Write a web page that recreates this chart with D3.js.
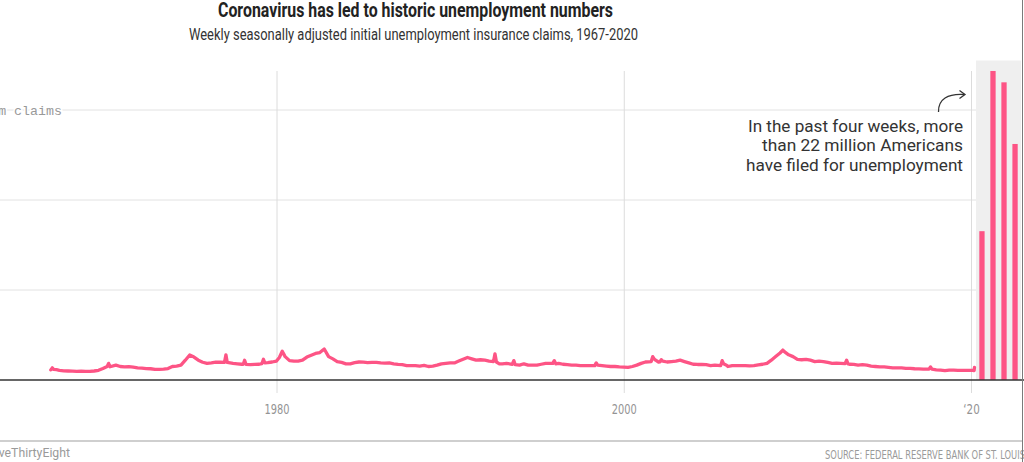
<!DOCTYPE html>
<html>
<head>
<meta charset="utf-8">
<script src="https://cdn.jsdelivr.net/npm/d3@7"></script>
<style>
  html, body { margin: 0; padding: 0; background: #fff; overflow: hidden; }
  svg { display: block; }
</style>
</head>
<body>
<svg id="chart" width="1024" height="462"></svg>
<script>
'use strict';

// ── Data (initial claims, thousands) ───────────────────────────────────────
const claimDates = [
  '1967-01','1967-02','1967-03','1967-05','1967-07','1967-10',
  '1968-01','1968-04','1968-07','1968-10',
  '1969-01','1969-04','1969-07','1969-10',
  '1970-01','1970-04','1970-05','1970-06','1970-10',
  '1971-01','1971-04','1971-07','1971-10',
  '1972-01','1972-04','1972-07','1972-10',
  '1973-01','1973-04','1973-07','1973-10',
  '1974-01','1974-04','1974-07','1974-10',
  '1975-01','1975-04','1975-07','1975-10',
  '1976-01','1976-04','1976-07','1976-10',
  '1977-01','1977-02','1977-03','1977-07','1977-10',
  '1978-01','1978-02','1978-03','1978-04','1978-07','1978-10',
  '1979-01','1979-03','1979-04','1979-05','1979-07','1979-10',
  '1980-01','1980-03','1980-05','1980-07','1980-10',
  '1981-01','1981-04','1981-07','1981-10',
  '1982-01','1982-04','1982-07','1982-10',
  '1983-01','1983-04','1983-07','1983-10',
  '1984-01','1984-04','1984-07','1984-10',
  '1985-01','1985-04','1985-07','1985-10',
  '1986-01','1986-04','1986-07','1986-10',
  '1987-01','1987-04','1987-07','1987-10',
  '1988-01','1988-04','1988-07','1988-10',
  '1989-01','1989-04','1989-07','1989-10',
  '1990-01','1990-04','1990-07','1990-10',
  '1991-01','1991-04','1991-07','1991-10',
  '1992-01','1992-04','1992-07','1992-08','1992-09','1992-11',
  '1993-01','1993-04','1993-07','1993-08','1993-09','1993-10',
  '1994-01','1994-04','1994-07','1994-10',
  '1995-01','1995-04','1995-07','1995-10','1995-12',
  '1996-01','1996-02','1996-04','1996-07','1996-10',
  '1997-01','1997-04','1997-07','1997-10',
  '1998-01','1998-05','1998-06','1998-07','1998-10',
  '1999-01','1999-04','1999-07','1999-10',
  '2000-01','2000-04','2000-07','2000-10',
  '2001-01','2001-04','2001-08','2001-09','2001-10','2001-11',
  '2002-01','2002-02','2002-03','2002-04','2002-07','2002-10',
  '2003-01','2003-04','2003-07','2003-10',
  '2004-01','2004-04','2004-07','2004-10',
  '2005-01','2005-04','2005-08','2005-09','2005-10','2005-12',
  '2006-01','2006-04','2006-07','2006-10',
  '2007-01','2007-04','2007-07','2007-10',
  '2008-01','2008-04','2008-07','2008-10',
  '2009-01','2009-03','2009-04','2009-07','2009-10',
  '2010-01','2010-04','2010-07','2010-10',
  '2011-01','2011-04','2011-07','2011-10',
  '2012-01','2012-04','2012-07','2012-10','2012-11','2012-12',
  '2013-01','2013-04','2013-07','2013-10',
  '2014-01','2014-04','2014-07','2014-10',
  '2015-01','2015-04','2015-07','2015-10',
  '2016-01','2016-04','2016-07','2016-10',
  '2017-01','2017-04','2017-08','2017-09','2017-10','2017-11',
  '2018-01','2018-04','2018-07','2018-10',
  '2019-01','2019-04','2019-07','2019-10',
  '2020-01','2020-02','2020-03-07','2020-03-14'
];

const claimValues = [
  225, 270, 235, 230, 215, 205,
  200, 195, 190, 195,
  190, 190, 200, 215,
  255, 300, 370, 295, 330,
  300, 290, 295, 285,
  270, 265, 255, 250,
  235, 235, 240, 255,
  300, 310, 330, 440,
  555, 510, 440, 395,
  370, 380, 395, 395,
  390, 560, 390, 370, 360,
  350, 350, 440, 345, 340, 345,
  350, 365, 460, 380, 385, 400,
  420, 500, 640, 520, 430,
  420, 420, 440, 510,
  550, 590, 610, 690,
  520, 470, 410, 390,
  360, 360, 385, 400,
  395, 385, 390, 390,
  380, 375, 380, 360,
  345, 340, 320, 320,
  320, 310, 325, 300,
  310, 330, 360, 370,
  380, 380, 420, 460,
  500, 470, 440, 450,
  440, 420, 410, 580, 400, 360,
  360, 370, 355, 350, 430, 340,
  330, 360, 330, 330,
  330, 350, 370, 370, 370,
  430, 360, 370, 350, 340,
  330, 330, 320, 320,
  320, 320, 380, 330, 320,
  310, 300, 300, 290,
  285, 280, 300, 330,
  370, 400, 410, 520, 470, 440,
  400, 405, 450, 420, 400, 410,
  420, 440, 410, 380,
  350, 345, 345, 340,
  320, 330, 320, 430, 360, 330,
  300, 320, 320, 320,
  320, 315, 320, 335,
  350, 370, 440, 520,
  600, 665, 630, 560, 520,
  460, 450, 460, 440,
  410, 420, 410, 390,
  370, 375, 370, 365, 440, 360,
  350, 345, 330, 340,
  330, 310, 300, 290,
  290, 280, 270, 270,
  270, 260, 260, 250,
  245, 240, 240, 290, 240, 235,
  225, 220, 210, 220,
  220, 215, 215, 215,
  215, 215, 211, 282
];

// Past four weeks (thousands)
const weekLabels = ['Mar 21', 'Mar 28', 'Apr 4', 'Apr 11'];
const weekValues = [3307, 6867, 6615, 5245];

const yTicks      = [2000, 4000, 6000];
const xTickYears  = [1980, 2000, 2020];
const xTickLabels = ['1980', '2000', '\u201820'];

const noteLines = [
  'In the past four weeks, more',
  'than 22 million Americans',
  'have filed for unemployment'
];

// ── Layout ────────────────────────────────────────────────────────────────
const PINK     = '#fd5485';
const BASE_Y   = 380;
const BAND_X0  = 976;
const BAND_X1  = 1021;
const COND     = '"Liberation Sans Narrow", "DejaVu Sans Condensed", "Roboto", sans-serif';
const SANS     = 'Roboto, "Noto Sans", sans-serif';

const svg = d3.select('#chart');

const parseM = d3.timeParse('%Y-%m');
const parseD = d3.timeParse('%Y-%m-%d');
const series = claimDates.map((d, i) => ({
  date: d.length > 7 ? parseD(d) : parseM(d),
  value: claimValues[i]
}));

const x = d3.scaleTime()
  .domain([new Date(1967, 0, 1), new Date(2020, 0, 1)])
  .range([50.8, 971]);

const y = d3.scaleLinear()
  .domain([0, 7100])
  .range([BASE_Y, 60.5]);

const xb = d3.scaleBand()
  .domain(weekLabels)
  .range([BAND_X0, BAND_X1])
  .paddingInner(0.52)
  .paddingOuter(0.3);

// ── Grey band behind the weekly bars ──────────────────────────────────────
svg.append('rect')
  .attr('x', BAND_X0).attr('y', y(7100))
  .attr('width', BAND_X1 - BAND_X0).attr('height', BASE_Y - y(7100))
  .attr('fill', '#efefef');

// ── Horizontal gridlines ──────────────────────────────────────────────────
svg.append('g').selectAll('line')
  .data(yTicks)
  .join('line')
  .attr('x1', -20).attr('x2', BAND_X0)
  .attr('y1', d => y(d)).attr('y2', d => y(d))
  .attr('stroke', '#e2e2e2')
  .attr('stroke-width', 1);

// ── Year ticks ────────────────────────────────────────────────────────────
const xAxis = d3.axisBottom(x)
  .tickValues(xTickYears.map(yr => new Date(yr, 0, 1)))
  .tickSize(322)
  .tickPadding(11)
  .tickFormat((d, i) => xTickLabels[i]);

svg.append('g')
  .attr('transform', 'translate(0, 71)')
  .call(xAxis)
  .call(ax => ax.select('.domain').remove())
  .call(ax => ax.selectAll('.tick line').attr('stroke', '#dcdcdc'))
  .call(ax => ax.selectAll('.tick text')
    .attr('fill', '#949494')
    .attr('font-family', COND)
    .attr('font-size', '14px')
    .attr('textLength', (d, i) => xTickLabels[i].length > 3 ? 25 : 16.5)
    .attr('lengthAdjust', 'spacingAndGlyphs'));

// Top gridline label (thin white halo lets the gridline show between words)
svg.append('text')
  .attr('x', 62).attr('y', y(6000) + 4.5)
  .attr('text-anchor', 'end')
  .attr('font-family', '"Liberation Mono", "DejaVu Sans Mono", monospace')
  .attr('font-size', '13.3px')
  .attr('fill', '#999')
  .attr('stroke', '#fff')
  .attr('stroke-width', 3)
  .attr('paint-order', 'stroke')
  .text('6m claims');

// ── Weekly claims line ────────────────────────────────────────────────────
const line = d3.line()
  .x(d => x(d.date))
  .y(d => y(d.value));

svg.append('path')
  .datum(series)
  .attr('d', line)
  .attr('fill', 'none')
  .attr('stroke', PINK)
  .attr('stroke-width', 3.3)
  .attr('stroke-linejoin', 'round')
  .attr('stroke-linecap', 'round');

// ── Last four weeks as bars ───────────────────────────────────────────────
svg.append('g').selectAll('rect')
  .data(weekValues)
  .join('rect')
  .attr('x', (d, i) => xb(weekLabels[i]))
  .attr('width', xb.bandwidth())
  .attr('y', d => y(d))
  .attr('height', d => BASE_Y - y(d))
  .attr('fill', PINK);

// Baseline
svg.append('line')
  .attr('x1', 0).attr('x2', 1024)
  .attr('y1', BASE_Y).attr('y2', BASE_Y)
  .attr('stroke', '#333')
  .attr('stroke-width', 1.5);

// ── Annotation ────────────────────────────────────────────────────────────
const noteLens = [215, 201, 217];
svg.append('g').selectAll('text')
  .data(noteLines)
  .join('text')
  .attr('x', 963)
  .attr('y', (d, i) => 131.7 + i * 19.5)
  .attr('text-anchor', 'end')
  .attr('font-family', SANS)
  .attr('font-size', '16px')
  .attr('fill', '#333')
  .attr('textLength', (d, i) => noteLens[i])
  .attr('lengthAdjust', 'spacingAndGlyphs')
  .text(d => d);

svg.append('path')
  .attr('d', 'M938.5,112 C938,99 948,93.5 964,94.5')
  .attr('fill', 'none')
  .attr('stroke', '#333')
  .attr('stroke-width', 1.3);

svg.append('path')
  .attr('d', 'M959.5,90.5 L965,94.6 L959.5,98.5')
  .attr('fill', 'none')
  .attr('stroke', '#333')
  .attr('stroke-width', 1.3);

// ── Titles ────────────────────────────────────────────────────────────────
svg.append('text')
  .attr('x', 415.5).attr('y', 16.5)
  .attr('text-anchor', 'middle')
  .attr('font-family', SANS)
  .attr('font-weight', 700)
  .attr('font-size', '19.5px')
  .attr('fill', '#222')
  .attr('textLength', 395)
  .attr('lengthAdjust', 'spacingAndGlyphs')
  .text('Coronavirus has led to historic unemployment numbers');

svg.append('text')
  .attr('x', 413.5).attr('y', 39.5)
  .attr('text-anchor', 'middle')
  .attr('font-family', SANS)
  .attr('font-size', '16.5px')
  .attr('fill', '#333')
  .attr('textLength', 449)
  .attr('lengthAdjust', 'spacingAndGlyphs')
  .text('Weekly seasonally adjusted initial unemployment insurance claims, 1967-2020');

// ── Footer ────────────────────────────────────────────────────────────────
svg.append('line')
  .attr('x1', 0).attr('x2', 1022)
  .attr('y1', 441).attr('y2', 441)
  .attr('stroke', '#cfcfcf')
  .attr('stroke-width', 2);

svg.append('text')
  .attr('x', 70).attr('y', 457)
  .attr('text-anchor', 'end')
  .attr('font-family', SANS)
  .attr('font-size', '12px')
  .attr('fill', '#9a9a9a')
  .attr('textLength', 81)
  .attr('lengthAdjust', 'spacingAndGlyphs')
  .text('FiveThirtyEight');

svg.append('text')
  .attr('x', 1025).attr('y', 459)
  .attr('text-anchor', 'end')
  .attr('font-family', COND)
  .attr('font-size', '12px')
  .attr('fill', '#9a9a9a')
  .attr('textLength', 200)
  .attr('lengthAdjust', 'spacingAndGlyphs')
  .text('SOURCE: FEDERAL RESERVE BANK OF ST. LOUIS');

// Right frame edge
svg.append('line')
  .attr('x1', 1022.5).attr('x2', 1022.5)
  .attr('y1', 0).attr('y2', 462)
  .attr('stroke', '#7a7a7a')
  .attr('stroke-width', 1);
</script>
</body>
</html>
